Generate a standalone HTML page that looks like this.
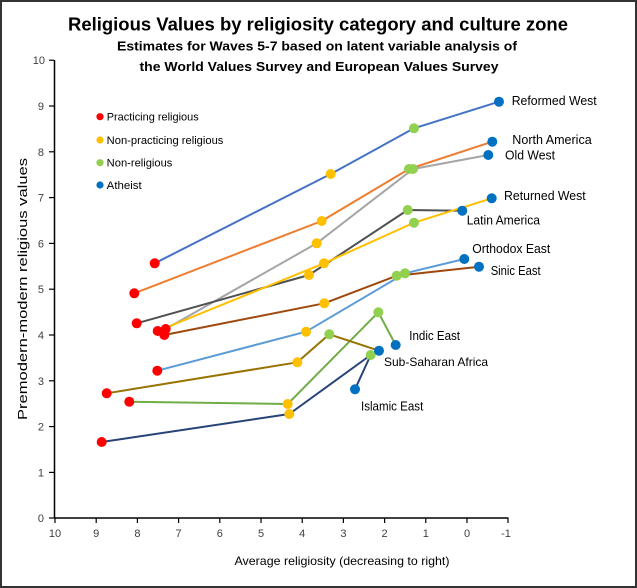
<!DOCTYPE html>
<html><head><meta charset="utf-8"><style>
html,body{margin:0;padding:0;background:#fff;}
svg{display:block;}
text{font-family:"Liberation Sans",sans-serif;}
</style></head><body>
<svg width="637" height="588" viewBox="0 0 637 588" xmlns="http://www.w3.org/2000/svg">
<rect x="0" y="0" width="637" height="588" fill="#fff"/>
<rect x="1" y="1" width="635" height="586" fill="none" stroke="#333" stroke-width="2"/>
<!-- titles -->
<text x="318" y="30.7" text-anchor="middle" font-weight="bold" font-size="18.7" textLength="500" lengthAdjust="spacingAndGlyphs" fill="#000">Religious Values by religiosity category and culture zone</text>
<text x="317" y="50.7" text-anchor="middle" font-weight="bold" font-size="13" textLength="400" lengthAdjust="spacingAndGlyphs" fill="#000">Estimates for Waves 5-7 based on latent variable analysis of</text>
<text x="319" y="71.2" text-anchor="middle" font-weight="bold" font-size="13" textLength="359" lengthAdjust="spacingAndGlyphs" fill="#000">the World Values Survey and European Values Survey</text>
<!-- axes -->
<line x1="54.5" y1="60" x2="54.5" y2="518.5" stroke="#000" stroke-width="1.5"/>
<line x1="54" y1="518" x2="508.5" y2="518" stroke="#000" stroke-width="1.5"/>
<g stroke="#000" stroke-width="1.2">
<line x1="49" y1="60.2" x2="54" y2="60.2"/><line x1="49" y1="106" x2="54" y2="106"/><line x1="49" y1="151.8" x2="54" y2="151.8"/><line x1="49" y1="197.6" x2="54" y2="197.6"/><line x1="49" y1="243.4" x2="54" y2="243.4"/><line x1="49" y1="289.2" x2="54" y2="289.2"/><line x1="49" y1="335" x2="54" y2="335"/><line x1="49" y1="380.8" x2="54" y2="380.8"/><line x1="49" y1="426.6" x2="54" y2="426.6"/><line x1="49" y1="472.4" x2="54" y2="472.4"/><line x1="49" y1="518" x2="54" y2="518"/>
<line x1="55" y1="518" x2="55" y2="523"/><line x1="96.2" y1="518" x2="96.2" y2="523"/><line x1="137.4" y1="518" x2="137.4" y2="523"/><line x1="178.6" y1="518" x2="178.6" y2="523"/><line x1="219.8" y1="518" x2="219.8" y2="523"/><line x1="261" y1="518" x2="261" y2="523"/><line x1="302.2" y1="518" x2="302.2" y2="523"/><line x1="343.4" y1="518" x2="343.4" y2="523"/><line x1="384.6" y1="518" x2="384.6" y2="523"/><line x1="425.8" y1="518" x2="425.8" y2="523"/><line x1="467" y1="518" x2="467" y2="523"/><line x1="508" y1="518" x2="508" y2="523"/>
</g>
<g font-size="11" fill="#404040" text-anchor="end">
<text x="45" y="64">10</text><text x="44" y="110">9</text><text x="44" y="155.8">8</text><text x="44" y="201.6">7</text><text x="44" y="247.4">6</text><text x="44" y="293.2">5</text><text x="44" y="339">4</text><text x="44" y="384.8">3</text><text x="44" y="430.6">2</text><text x="44" y="476.4">1</text><text x="44" y="522">0</text>
</g>
<g font-size="11" fill="#404040" text-anchor="middle">
<text x="55" y="537">10</text><text x="96.2" y="537">9</text><text x="137.4" y="537">8</text><text x="178.6" y="537">7</text><text x="219.8" y="537">6</text><text x="261" y="537">5</text><text x="302.2" y="537">4</text><text x="343.4" y="537">3</text><text x="384.6" y="537">2</text><text x="425.8" y="537">1</text><text x="467" y="537">0</text><text x="506" y="537">-1</text>
</g>
<text x="342" y="565" text-anchor="middle" font-size="12" textLength="215" lengthAdjust="spacingAndGlyphs" fill="#000">Average religiosity (decreasing to right)</text>
<text transform="translate(27,289) rotate(-90)" text-anchor="middle" font-size="13" textLength="262" lengthAdjust="spacingAndGlyphs" fill="#000">Premodern-modern religious values</text>
<!-- legend -->
<circle cx="100" cy="116.7" r="3.6" fill="#FF0000"/>
<circle cx="100" cy="140" r="3.6" fill="#FFC000"/>
<circle cx="100" cy="162.7" r="3.6" fill="#92D050"/>
<circle cx="100" cy="185" r="3.6" fill="#0070C0"/>
<g font-size="11" fill="#000">
<text x="106.7" y="120.5" textLength="92" lengthAdjust="spacingAndGlyphs">Practicing religious</text>
<text x="106.7" y="143.8" textLength="116.7" lengthAdjust="spacingAndGlyphs">Non-practicing religious</text>
<text x="106.7" y="166.5" textLength="65.7" lengthAdjust="spacingAndGlyphs">Non-religious</text>
<text x="106.7" y="188.8" textLength="35" lengthAdjust="spacingAndGlyphs">Atheist</text>
</g>
<!-- series lines -->
<g fill="none" stroke-width="2" stroke-linejoin="round">
<polyline stroke="#4472C4" points="154.7,263.3 330.7,174 414,128.3 499,101.7"/>
<polyline stroke="#ED7D31" points="134.3,293.3 321.7,221 409,169 492.3,141.7"/>
<polyline stroke="#A5A5A5" points="165.7,329 316.7,243.3 413,169 488.3,155"/>
<polyline stroke="#505050" points="136.7,323.3 309,275 407.7,210 462.3,210.7"/>
<polyline stroke="#FFC000" points="157.7,331 324,263.3 414,222.7 491.7,198.3"/>
<polyline stroke="#5B9BD5" points="157.3,370.7 306,331.7 405,273.3 464.3,259"/>
<polyline stroke="#9E480E" points="164.3,335 324.3,303.3 396.7,275.7 479,266.7"/>
<polyline stroke="#70AD47" points="129.3,401.7 287.7,404 378.3,312.3 395.7,345"/>
<polyline stroke="#997300" points="106.7,393.3 297.3,362.3 329.3,334.3 379,350.7"/>
<polyline stroke="#264478" points="101.7,442 289.3,414 370.7,355 355,389.3"/>
</g>
<!-- markers -->
<g fill="#FF0000">
<circle cx="154.7" cy="263.3" r="5"/><circle cx="134.3" cy="293.3" r="5"/><circle cx="136.7" cy="323.3" r="5"/><circle cx="157.7" cy="331" r="5"/><circle cx="165.7" cy="329" r="5"/><circle cx="164.3" cy="335" r="5"/><circle cx="157.3" cy="370.7" r="5"/><circle cx="106.7" cy="393.3" r="5"/><circle cx="129.3" cy="401.7" r="5"/><circle cx="101.7" cy="442" r="5"/>
</g>
<g fill="#FFC000">
<circle cx="330.7" cy="174" r="5"/><circle cx="321.7" cy="221" r="5"/><circle cx="316.7" cy="243.3" r="5"/><circle cx="309" cy="275" r="5"/><circle cx="324" cy="263.3" r="5"/><circle cx="306" cy="331.7" r="5"/><circle cx="324.3" cy="303.3" r="5"/><circle cx="287.7" cy="404" r="5"/><circle cx="297.3" cy="362.3" r="5"/><circle cx="289.3" cy="414" r="5"/>
</g>
<g fill="#92D050">
<circle cx="414" cy="128.3" r="5"/><circle cx="409" cy="169" r="5"/><circle cx="413" cy="169" r="5"/><circle cx="407.7" cy="210" r="5"/><circle cx="414" cy="222.7" r="5"/><circle cx="405" cy="273.3" r="5"/><circle cx="396.7" cy="275.7" r="5"/><circle cx="378.3" cy="312.3" r="5"/><circle cx="329.3" cy="334.3" r="5"/><circle cx="370.7" cy="355" r="5"/>
</g>
<g fill="#0070C0">
<circle cx="499" cy="101.7" r="5"/><circle cx="492.3" cy="141.7" r="5"/><circle cx="488.3" cy="155" r="5"/><circle cx="462.3" cy="210.7" r="5"/><circle cx="491.7" cy="198.3" r="5"/><circle cx="464.3" cy="259" r="5"/><circle cx="479" cy="266.7" r="5"/><circle cx="395.7" cy="345" r="5"/><circle cx="379" cy="350.7" r="5"/><circle cx="355" cy="389.3" r="5"/>
</g>
<!-- data labels -->
<g font-size="12.5" fill="#000">
<text x="511.7" y="105.2" textLength="85" lengthAdjust="spacingAndGlyphs">Reformed West</text>
<text x="512.3" y="143.8" textLength="79.4" lengthAdjust="spacingAndGlyphs">North America</text>
<text x="505" y="159.5" textLength="50" lengthAdjust="spacingAndGlyphs">Old West</text>
<text x="504" y="200.2" textLength="81.7" lengthAdjust="spacingAndGlyphs">Returned West</text>
<text x="466.7" y="224.5" textLength="73.3" lengthAdjust="spacingAndGlyphs">Latin America</text>
<text x="472.3" y="252.8" textLength="78" lengthAdjust="spacingAndGlyphs">Orthodox East</text>
<text x="490.7" y="275.2" textLength="50" lengthAdjust="spacingAndGlyphs">Sinic East</text>
<text x="409.3" y="340.2" textLength="50.7" lengthAdjust="spacingAndGlyphs">Indic East</text>
<text x="384" y="366.2" font-size="12">Sub-Saharan Africa</text>
<text x="361" y="410.5" textLength="62.3" lengthAdjust="spacingAndGlyphs">Islamic East</text>
</g>
</svg>
</body></html>
